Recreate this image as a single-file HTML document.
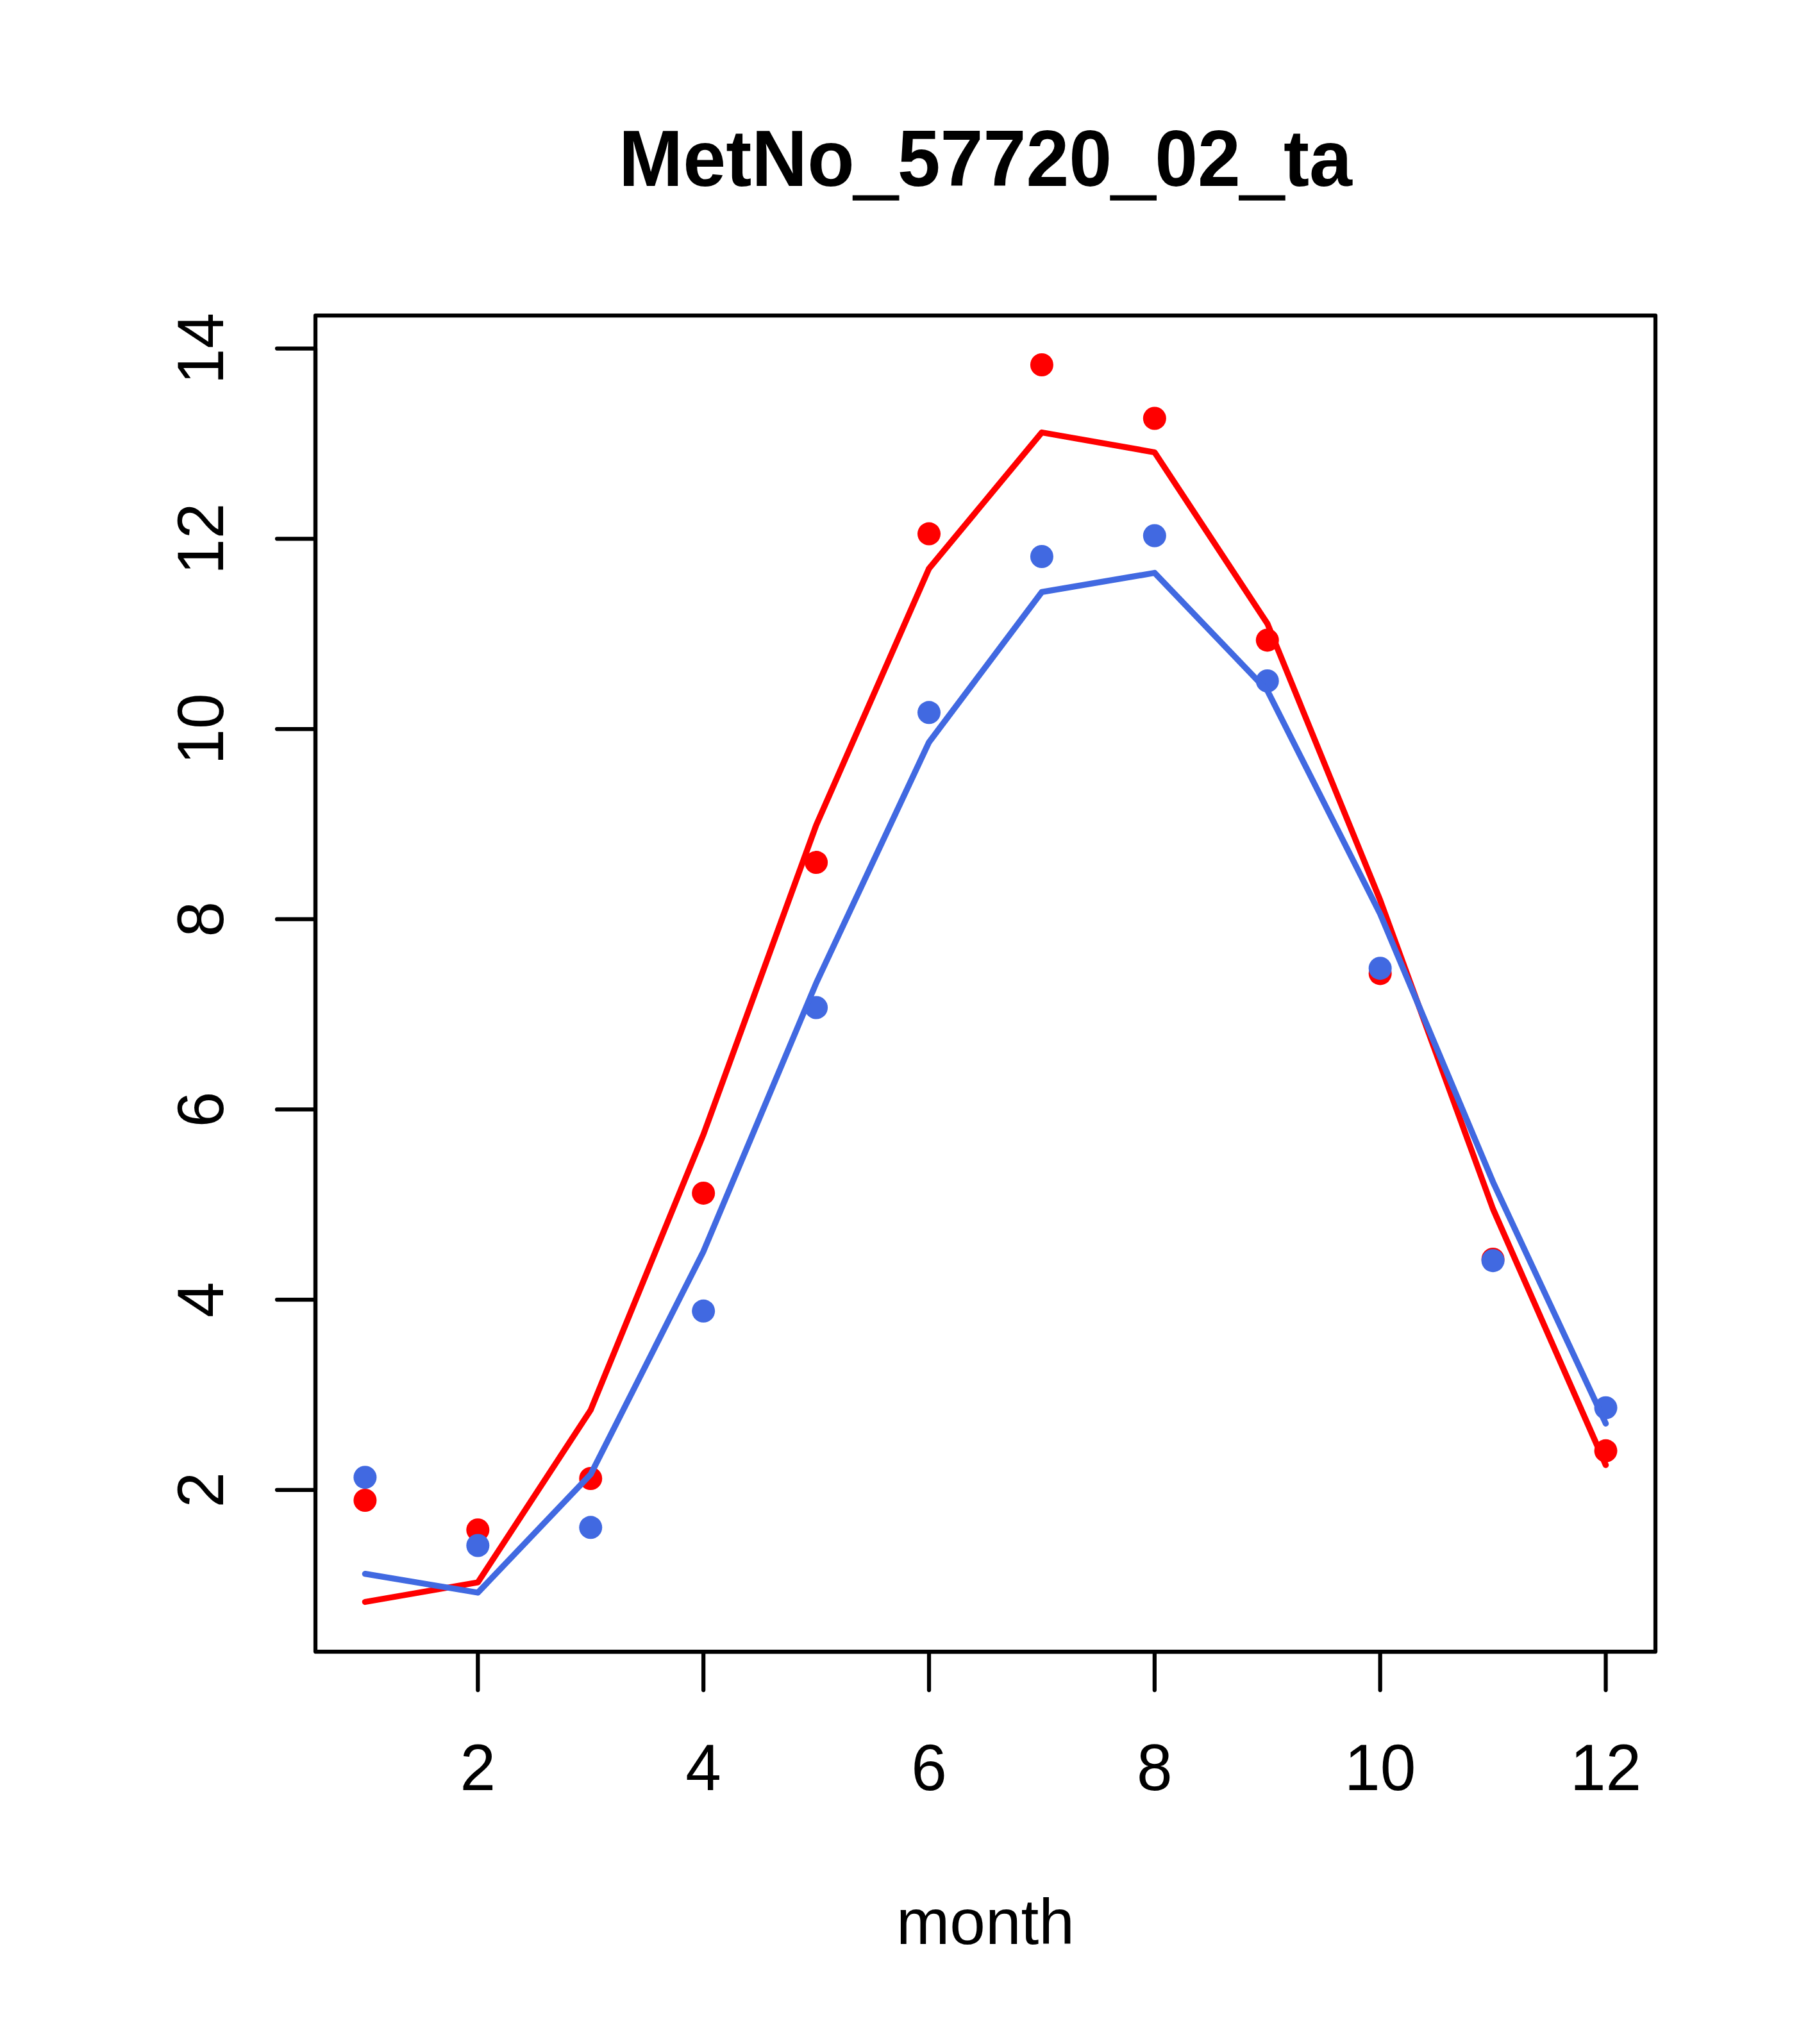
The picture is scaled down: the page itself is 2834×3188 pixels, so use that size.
<!DOCTYPE html>
<html><head><meta charset="utf-8"><title>MetNo_57720_02_ta</title>
<style>html,body{margin:0;padding:0;background:#fff;}body{width:2834px;height:3188px;overflow:hidden;}svg{display:block;}</style>
</head><body>
<svg width="2834" height="3188" viewBox="0 0 2834 3188">
<rect width="2834" height="3188" fill="#fff"/>
<circle cx="569.40" cy="2340.00" r="18" fill="#FF0000"/>
<circle cx="745.32" cy="2386.20" r="18" fill="#FF0000"/>
<circle cx="921.24" cy="2306.00" r="18" fill="#FF0000"/>
<circle cx="1097.16" cy="1860.90" r="18" fill="#FF0000"/>
<circle cx="1273.08" cy="1345.10" r="18" fill="#FF0000"/>
<circle cx="1449.00" cy="832.60" r="18" fill="#FF0000"/>
<circle cx="1624.92" cy="569.00" r="18" fill="#FF0000"/>
<circle cx="1800.84" cy="652.50" r="18" fill="#FF0000"/>
<circle cx="1976.76" cy="998.40" r="18" fill="#FF0000"/>
<circle cx="2152.68" cy="1518.40" r="18" fill="#FF0000"/>
<circle cx="2328.60" cy="1963.90" r="18" fill="#FF0000"/>
<circle cx="2504.52" cy="2262.80" r="18" fill="#FF0000"/>
<polyline points="569.40,2498.50 745.32,2468.00 921.24,2199.20 1097.16,1769.50 1273.08,1286.90 1449.00,886.70 1624.92,674.50 1800.84,705.50 1976.76,972.60 2152.68,1404.10 2328.60,1885.50 2504.52,2285.00" fill="none" stroke="#FF0000" stroke-width="9.375" stroke-linejoin="round" stroke-linecap="round"/>
<circle cx="569.40" cy="2304.20" r="18" fill="#4169E1"/>
<circle cx="745.32" cy="2410.50" r="18" fill="#4169E1"/>
<circle cx="921.24" cy="2382.30" r="18" fill="#4169E1"/>
<circle cx="1097.16" cy="2044.80" r="18" fill="#4169E1"/>
<circle cx="1273.08" cy="1571.50" r="18" fill="#4169E1"/>
<circle cx="1449.00" cy="1111.30" r="18" fill="#4169E1"/>
<circle cx="1624.92" cy="868.00" r="18" fill="#4169E1"/>
<circle cx="1800.84" cy="835.50" r="18" fill="#4169E1"/>
<circle cx="1976.76" cy="1062.00" r="18" fill="#4169E1"/>
<circle cx="2152.68" cy="1510.20" r="18" fill="#4169E1"/>
<circle cx="2328.60" cy="1966.20" r="18" fill="#4169E1"/>
<circle cx="2504.52" cy="2195.70" r="18" fill="#4169E1"/>
<polyline points="569.40,2454.70 745.32,2484.00 921.24,2299.60 1097.16,1951.80 1273.08,1533.20 1449.00,1157.60 1624.92,923.40 1800.84,893.50 1976.76,1077.20 2152.68,1425.50 2328.60,1843.40 2504.52,2220.30" fill="none" stroke="#4169E1" stroke-width="9.375" stroke-linejoin="round" stroke-linecap="round"/>
<g fill="none" stroke="#000" stroke-width="6.25" stroke-linecap="round" stroke-linejoin="round">
<path d="M745.32,2576 H2504.52 M745.32,2576 V2636 M1097.16,2576 V2636 M1449.00,2576 V2636 M1800.84,2576 V2636 M2152.68,2576 V2636 M2504.52,2576 V2636"/>
<path d="M492,2323.80 V543.60 M492,2323.80 H432 M492,2027.10 H432 M492,1730.40 H432 M492,1433.70 H432 M492,1137.00 H432 M492,840.30 H432 M492,543.60 H432"/>
<rect x="492" y="492" width="2090" height="2084"/>
</g>
<g font-family="'Liberation Sans', Arial, Helvetica, sans-serif" fill="#000">
<text transform="translate(1537.0,289.8) scale(1.0027,1.03)" text-anchor="middle" font-size="120" font-weight="bold">MetNo<tspan dy="6.5" stroke="#000" stroke-width="3.6">_</tspan><tspan dy="-6.5">57720</tspan><tspan dy="6.5" stroke="#000" stroke-width="3.6">_</tspan><tspan dy="-6.5">02</tspan><tspan dy="6.5" stroke="#000" stroke-width="3.6">_</tspan><tspan dy="-6.5">ta</tspan></text>
<text transform="translate(745.32,2792) scale(1,1.025)" text-anchor="middle" font-size="100">2</text>
<text transform="translate(1097.16,2792) scale(1,1.025)" text-anchor="middle" font-size="100">4</text>
<text transform="translate(1449.00,2792) scale(1,1.025)" text-anchor="middle" font-size="100">6</text>
<text transform="translate(1800.84,2792) scale(1,1.025)" text-anchor="middle" font-size="100">8</text>
<text transform="translate(2152.68,2792) scale(1,1.025)" text-anchor="middle" font-size="100">10</text>
<text transform="translate(2504.52,2792) scale(1,1.025)" text-anchor="middle" font-size="100">12</text>
<text transform="translate(348,2323.80) rotate(-90) scale(1,1.025)" text-anchor="middle" font-size="100">2</text>
<text transform="translate(348,2027.10) rotate(-90) scale(1,1.025)" text-anchor="middle" font-size="100">4</text>
<text transform="translate(348,1730.40) rotate(-90) scale(1,1.025)" text-anchor="middle" font-size="100">6</text>
<text transform="translate(348,1433.70) rotate(-90) scale(1,1.025)" text-anchor="middle" font-size="100">8</text>
<text transform="translate(348,1137.00) rotate(-90) scale(1,1.025)" text-anchor="middle" font-size="100">10</text>
<text transform="translate(348,840.30) rotate(-90) scale(1,1.025)" text-anchor="middle" font-size="100">12</text>
<text transform="translate(348,543.60) rotate(-90) scale(1,1.025)" text-anchor="middle" font-size="100">14</text>
<text x="1537.0" y="3032" text-anchor="middle" font-size="100">month</text>
</g>
</svg>
</body></html>
